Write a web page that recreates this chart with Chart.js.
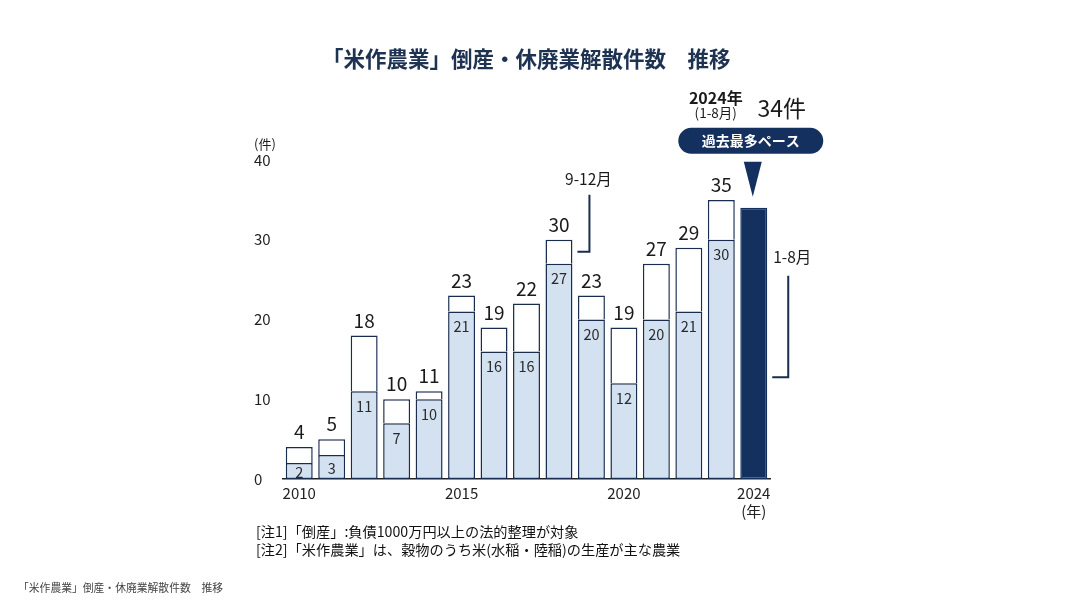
<!DOCTYPE html>
<html><head><meta charset="utf-8">
<script src="https://cdn.jsdelivr.net/npm/chart.js@4"></script>
<style>
html,body{margin:0;padding:0;background:#fff;}
#wrap{position:relative;width:1078px;height:611px;overflow:hidden;font-family:'Noto Sans CJK JP','Noto Sans',sans-serif;}
#c{position:absolute;left:0;top:0;}
#title{position:absolute;left:322px;top:46px;font-size:21.5px;line-height:24px;font-weight:bold;color:#1e3252;white-space:nowrap;}
.note{position:absolute;left:256px;font-size:14.2px;line-height:18px;color:#111;white-space:nowrap;}
#cap{position:absolute;left:18px;top:580px;font-size:10.8px;line-height:14px;color:#444;white-space:nowrap;}
</style>
</head><body>
<div id="wrap">
<canvas id="c" width="1078" height="611"></canvas>
<div id="title"></div>
<div class="note" id="n1" style="top:522px"></div>
<div class="note" id="n2" style="top:540px"></div>
<div id="cap"></div>
</div>
<script>
// ---- data ----
const years = ['2010','2011','2012','2013','2014','2015','2016','2017','2018','2019','2020','2021','2022','2023','2024'];
const janAug = [2,3,11,7,10,21,16,16,27,20,12,20,21,30,34];
const sepDec = [2,2,7,3,1,2,3,6,3,3,7,7,8,5,null];
const totals = [4,5,18,10,11,23,19,22,30,23,19,27,29,35,34];
const shownYearTicks = ['2010','2015','2020','2024'];
const yTickStep = 10;
const yMax = 40;
const titleText = '「米作農業」倒産・休廃業解散件数　推移';
const note1 = '[注1]「倒産」:負債1000万円以上の法的整理が対象';
const note2 = '[注2]「米作農業」は、穀物のうち米(水稲・陸稲)の生産が主な農業';
const captionText = '「米作農業」倒産・休廃業解散件数　推移';
const unitLabel = '(件)';
const yearUnit = '(年)';
const seriesLabelSepDec = '9-12月';
const seriesLabelJanAug = '1-8月';
const calloutYear = '2024年';
const calloutPeriod = '(1-8月)';
const calloutValue = '34件';
const calloutBadge = '過去最多ペース';

document.getElementById('title').textContent = titleText;
document.getElementById('n1').textContent = note1;
document.getElementById('n2').textContent = note2;
document.getElementById('cap').textContent = captionText;

const NAVY = '#14305f';
const LINE = '#1b2d4f';
const LIGHT = '#d3e1f1';
const FONT = "'Noto Sans CJK JP','Noto Sans',sans-serif";
Chart.defaults.font.family = FONT;

const lastIdx = years.length - 1;

const labelPlugin = {
  id: 'labels',
  afterDatasetsDraw(chart) {
    const ctx = chart.ctx;
    const xs = chart.scales.x, ys = chart.scales.y;
    const meta = chart.getDatasetMeta(0);
    ctx.save();
    ctx.textAlign = 'center';
    ctx.textBaseline = 'middle';
    for (let i = 0; i < years.length; i++) {
      const x = xs.getPixelForValue(i);
      if (i !== lastIdx) {
        ctx.fillStyle = '#1a1a1a';
        ctx.font = '19px ' + FONT;
        ctx.fillText(String(totals[i]), x, ys.getPixelForValue(totals[i]) - 15);
        const top = ys.getPixelForValue(janAug[i]);
        const bot = ys.getPixelForValue(0);
        const y = Math.min(top + 15, (top + bot) / 2 + 1);
        ctx.fillStyle = '#2a2a2a';
        ctx.font = '14.5px ' + FONT;
        ctx.fillText(String(janAug[i]), x, y);
      }
    }
    ctx.textAlign = 'left';
    ctx.fillStyle = '#1a1a1a';
    ctx.font = '13px ' + FONT;
    ctx.fillText(unitLabel, ys.left, ys.getPixelForValue(yMax) - 16);

    const half = meta.data[0].width / 2;
    ctx.strokeStyle = LINE;
    ctx.lineWidth = 2;
    const i18 = years.indexOf('2018');
    const bx = xs.getPixelForValue(i18) + half;
    const by = ys.getPixelForValue(janAug[i18] + sepDec[i18] / 2);
    const vx = bx + 17;
    ctx.beginPath();
    ctx.moveTo(bx + 5, by); ctx.lineTo(vx, by); ctx.lineTo(vx, by - 57);
    ctx.stroke();
    ctx.textAlign = 'center';
    ctx.font = '15.5px ' + FONT;
    ctx.fillText(seriesLabelSepDec, vx - 1, by - 73);
    const bx2 = xs.getPixelForValue(lastIdx) + half;
    const yLow = ys.getPixelForValue(janAug[lastIdx] * 0.375);
    const yHigh = ys.getPixelForValue(janAug[lastIdx] * 0.75);
    const vx2 = bx2 + 21;
    ctx.beginPath();
    ctx.moveTo(bx2 + 5, yLow); ctx.lineTo(vx2, yLow); ctx.lineTo(vx2, yHigh);
    ctx.stroke();
    ctx.fillText(seriesLabelJanAug, vx2 + 4, yHigh - 19);

    const cx = xs.getPixelForValue(lastIdx);
    const barTop = ys.getPixelForValue(janAug[lastIdx]);
    const triBot = barTop - 11, triTop = barTop - 46;
    ctx.fillStyle = NAVY;
    ctx.beginPath();
    ctx.moveTo(cx - 10, triTop); ctx.lineTo(cx + 8, triTop); ctx.lineTo(cx - 1, triBot); ctx.closePath();
    ctx.fill();
    const pw = 145, ph = 26, pcx = cx - 3, pcy = triTop - 21;
    ctx.beginPath();
    ctx.roundRect(pcx - pw / 2, pcy - ph / 2, pw, ph, ph / 2);
    ctx.fill();
    ctx.fillStyle = '#ffffff';
    ctx.font = 'bold 14px ' + FONT;
    ctx.fillText(calloutBadge, pcx, pcy);
    ctx.fillStyle = '#1a1a1a';
    ctx.font = 'bold 16px ' + FONT;
    ctx.fillText(calloutYear, cx - 38, pcy - 43);
    ctx.font = '13.5px ' + FONT;
    ctx.fillText(calloutPeriod, cx - 38, pcy - 28);
    ctx.font = '23px ' + FONT;
    ctx.fillText(calloutValue, cx + 28, pcy - 33);
    ctx.restore();
  }
};

new Chart(document.getElementById('c'), {
  type: 'bar',
  data: {
    labels: years,
    datasets: [
      {
        label: seriesLabelJanAug,
        data: janAug,
        backgroundColor: years.map((y, i) => i === lastIdx ? NAVY : LIGHT),
        borderColor: years.map((y, i) => i === lastIdx ? NAVY : LINE),
        borderWidth: 1.5,
        borderSkipped: false,
        stack: 's'
      },
      {
        label: seriesLabelSepDec,
        data: sepDec,
        backgroundColor: '#ffffff',
        borderColor: LINE,
        borderWidth: 1.5,
        borderSkipped: 'bottom',
        stack: 's'
      }
    ]
  },
  options: {
    responsive: false,
    animation: false,
    devicePixelRatio: 1,
    layout: { padding: { left: 254, right: 308, top: 160, bottom: 82 } },
    datasets: { bar: { categoryPercentage: 1, barPercentage: 0.83 } },
    plugins: { legend: { display: false }, tooltip: { enabled: false }, title: { display: false } },
    scales: {
      x: {
        stacked: true,
        grid: { display: false, drawTicks: false },
        border: { display: true, color: '#222', width: 1.5 },
        ticks: {
          autoSkip: false, maxRotation: 0, minRotation: 0, padding: 5,
          color: '#222', font: { size: 15 },
          callback: (v, i) => {
            const l = years[i];
            if (i === lastIdx) return [l, yearUnit];
            return shownYearTicks.includes(l) ? l : '';
          }
        },
        afterFit: s => { s.height = 50; }
      },
      y: {
        stacked: true,
        min: 0, max: yMax,
        grid: { display: false, drawTicks: false },
        border: { display: false },
        ticks: { stepSize: yTickStep, crossAlign: 'far', padding: 0, color: '#222', font: { size: 15 } },
        afterFit: s => { s.width = 29; }
      }
    }
  },
  plugins: [labelPlugin]
});
</script>
</body></html>
